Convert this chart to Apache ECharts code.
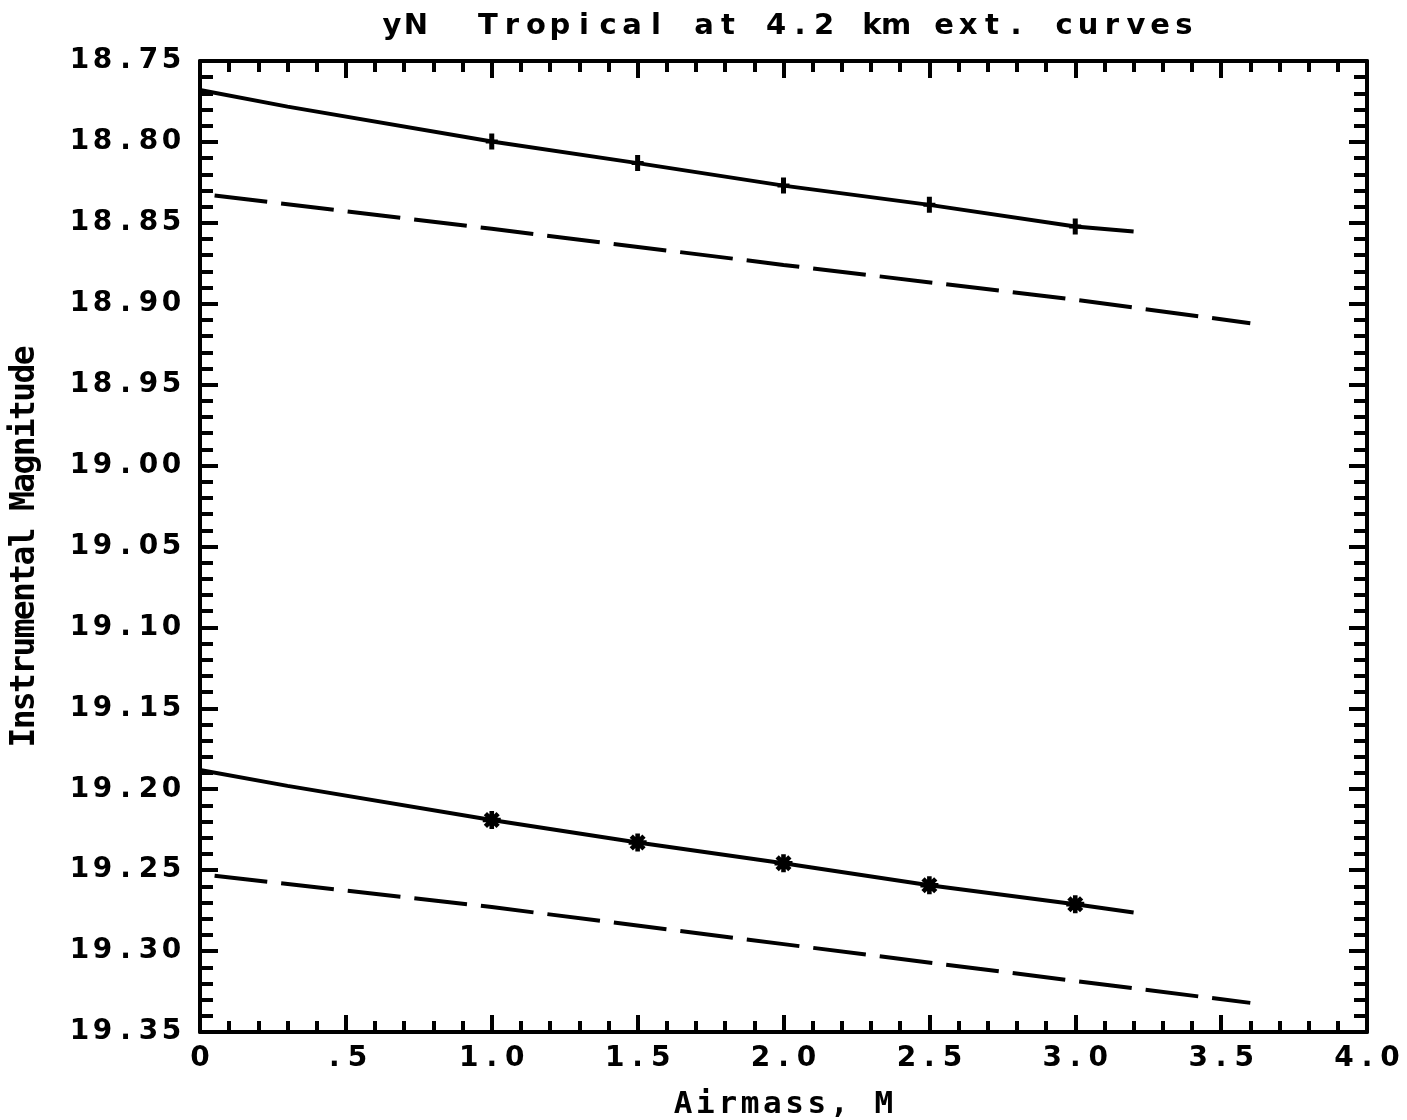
<!DOCTYPE html>
<html>
<head>
<meta charset="utf-8">
<script src="https://cdn.jsdelivr.net/npm/echarts@6/dist/echarts.min.js"></script>
<style>
  html, body { margin: 0; padding: 0; background: #fff; }
  #chart { width: 1407px; height: 1120px; }
</style>
</head>
<body>
<div id="chart"></div>
<script>
// ---- data ----
const titleText = 'yN  Tropical at 4.2 km ext. curves';
const xName = 'Airmass, M';
const yName = 'Instrumental Magnitude';

const xTickValues = [0, 0.5, 1, 1.5, 2, 2.5, 3, 3.5, 4];
const xTickLabels = ['0', '.5', '1.0', '1.5', '2.0', '2.5', '3.0', '3.5', '4.0'];
const yTickValues = [18.75, 18.80, 18.85, 18.90, 18.95, 19.00, 19.05, 19.10, 19.15, 19.20, 19.25, 19.30, 19.35];
const yTickLabels = ['18.75', '18.80', '18.85', '18.90', '18.95', '19.00', '19.05', '19.10', '19.15', '19.20', '19.25', '19.30', '19.35'];

// solid curves
const curveX = [0, 0.3, 1.0, 1.5, 2.0, 2.5, 3.0, 3.2];
const topCurveY = [18.7679, 18.7782, 18.7998, 18.8131, 18.8270, 18.8389, 18.8523, 18.8554];
const bottomCurveY = [19.1881, 19.1979, 19.2190, 19.2329, 19.2457, 19.2593, 19.2710, 19.2761];

// measured points (markers)
const markX = [1.0, 1.5, 2.0, 2.5, 3.0];
const topMarkY = [18.7998, 18.8131, 18.8270, 18.8389, 18.8523];
const bottomMarkY = [19.2190, 19.2329, 19.2457, 19.2593, 19.2710];

// dashed curves
const dashX = [0.05, 1.0, 2.0, 3.0, 3.6];
const topDashY = [18.8331, 18.8537, 18.8760, 18.8975, 18.9120];
const bottomDashY = [19.2535, 19.2728, 19.2957, 19.3185, 19.3320];

// ---- helpers ----
const pairs = (xs, ys) => xs.map((x, i) => [x, ys[i]]);
const spaced = (str, key) => str.split('').map(c => '{' + key + '|' + (c === ' ' ? '\u00a0' : c) + '}').join('');
const SANS = '"DejaVu Sans", sans-serif';
const MONO = '"DejaVu Sans Mono", monospace';
const cell = (w, size, fam) => ({ width: w, align: 'center', fontSize: size, fontWeight: 'bold', fontFamily: fam, color: '#000', lineHeight: size + 2 });

const plusPath = 'path://M-2.5,-8L2.5,-8L2.5,-2L6,-2L6,2L2.5,2L2.5,8L-2.5,8L-2.5,2L-6,2L-6,-2L-2.5,-2Z';
function starPath() {
  let d = '';
  [0, 45, 90, 135].forEach(a => {
    const r = a * Math.PI / 180, c = Math.cos(r), s = Math.sin(r);
    const pts = [[-9, -2.3], [9, -2.3], [9, 2.3], [-9, 2.3]].map(([x, y]) => [x * c - y * s, x * s + y * c]);
    d += 'M' + pts.map(p => p[0].toFixed(2) + ',' + p[1].toFixed(2)).join('L') + 'Z';
  });
  return 'path://' + d;
}

const lblX = v => { const i = xTickValues.findIndex(t => Math.abs(t - v) < 1e-6); return i >= 0 ? spaced(xTickLabels[i], 'c') : ''; };
const lblY = v => { const i = yTickValues.findIndex(t => Math.abs(t - v) < 1e-6); return i >= 0 ? spaced(yTickLabels[i], 'c') : ''; };

const axisLine = { show: true, onZero: false, lineStyle: { color: '#000', width: 4 } };
function xAx(pos, showLabel) {
  return {
    type: 'value', position: pos, min: 0, max: 4, interval: 0.5,
    axisLine: axisLine,
    axisTick: { show: true, inside: true, length: 17, lineStyle: { color: '#000', width: 4 } },
    minorTick: { show: true, splitNumber: 5, length: 11, lineStyle: { color: '#000', width: 4 } },
    splitLine: { show: false }, minorSplitLine: { show: false },
    axisLabel: showLabel ? { show: true, margin: 12, formatter: lblX, rich: { c: cell(23, 28, SANS) } } : { show: false },
    name: showLabel ? spaced(xName, 'n') : '',
    nameLocation: 'middle', nameGap: 56,
    nameTextStyle: { rich: { n: cell(22.3, 31, MONO) } }
  };
}
function yAx(pos, showLabel) {
  return {
    type: 'value', position: pos, min: 18.75, max: 19.35, interval: 0.05, inverse: true,
    axisLine: axisLine,
    axisTick: { show: true, inside: true, length: 18, lineStyle: { color: '#000', width: 4 } },
    minorTick: { show: true, splitNumber: 5, length: 13, lineStyle: { color: '#000', width: 4 } },
    splitLine: { show: false }, minorSplitLine: { show: false },
    axisLabel: showLabel ? { show: true, margin: 17, formatter: lblY, rich: { c: cell(23, 28, SANS) } } : { show: false },
    name: showLabel ? spaced(yName, 'n') : '',
    nameLocation: 'middle', nameGap: 157, nameRotate: 90,
    nameTextStyle: { rich: { n: cell(18.2, 33, MONO) } }
  };
}

const solid = { color: '#000', width: 4, type: 'solid' };
const dashed = { color: '#000', width: 4, type: [53, 14] };

const option = {
  backgroundColor: '#fff',
  animation: false,
  title: {
    text: spaced(titleText, 't'),
    left: 783, top: 6, textAlign: 'center',
    textStyle: { rich: { t: cell(24, 29, SANS) } }
  },
  grid: { left: 200, right: 40, top: 61, bottom: 88, containLabel: false, outerBoundsMode: 'none' },
  xAxis: [xAx('bottom', true), xAx('top', false)],
  yAxis: [yAx('left', true), yAx('right', false)],
  series: [
    { type: 'line', data: pairs(curveX, topCurveY), showSymbol: false, lineStyle: solid, silent: true },
    { type: 'line', data: pairs(curveX, bottomCurveY), showSymbol: false, lineStyle: solid, silent: true },
    { type: 'line', data: pairs(dashX, topDashY), showSymbol: false, lineStyle: dashed, silent: true },
    { type: 'line', data: pairs(dashX, bottomDashY), showSymbol: false, lineStyle: dashed, silent: true },
    { type: 'scatter', data: pairs(markX, topMarkY), symbol: plusPath, symbolSize: [12, 16], itemStyle: { color: '#000', opacity: 1 }, silent: true },
    { type: 'scatter', data: pairs(markX, bottomMarkY), symbol: starPath(), symbolSize: 18, itemStyle: { color: '#000', opacity: 1 }, silent: true }
  ]
};

const chart = echarts.init(document.getElementById('chart'), null, { renderer: 'canvas' });
chart.setOption(option);
</script>
</body>
</html>
